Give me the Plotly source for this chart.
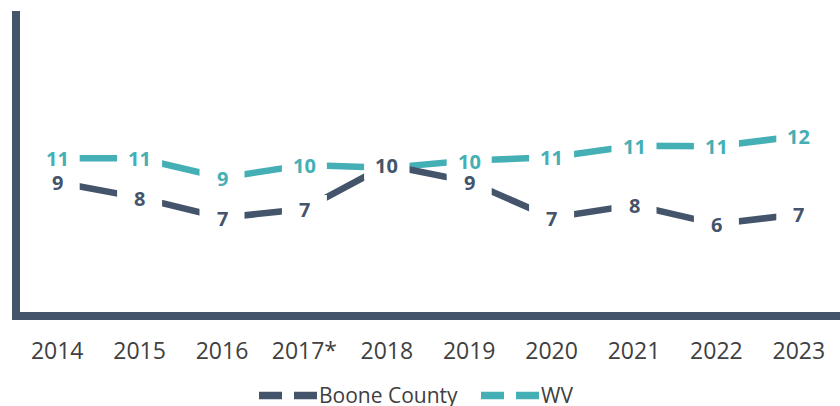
import plotly.graph_objects as go

# ---- data ----
years = ["2014", "2015", "2016", "2017*", "2018", "2019", "2020", "2021", "2022", "2023"]
boone = [9.06, 8.09, 6.82, 7.37, 10.15, 9.10, 6.82, 7.62, 6.42, 7.04]
wv = [10.57, 10.57, 9.35, 10.15, 9.97, 10.43, 10.64, 11.37, 11.33, 11.98]
series_names = ["Boone County", "WV"]
series_colors = ["#44546A", "#44AFB5"]
AXIS_COLOR = "#44546A"
TEXT_COLOR = "#404040"

W, H = 840, 406
ML, MR, MT, MB = 20, 0, 11, 94
PW, PH = W - ML - MR, H - MT - MB

fig = go.Figure()

xs = list(range(len(years)))
order = [(series_names[1], wv, series_colors[1], boone), (series_names[0], boone, series_colors[0], None)]
for name, vals, col, _ in order:
    fig.add_trace(go.Scatter(x=xs, y=vals, mode="lines", name=name,
                             line=dict(color=col, width=6.5), showlegend=False,
                             hoverinfo="skip"))

shapes = []
annotations = []
for name, vals, col, other in order:
    for i, v in enumerate(vals):
        # white mask behind each data label (gap in the line)
        shapes.append(dict(type="rect", xref="x", yref="y",
                           xsizemode="pixel", ysizemode="pixel",
                           xanchor=i, yanchor=v, x0=-22.5, x1=22.5, y0=-14, y1=14,
                           fillcolor="white", line=dict(width=0), layer="above"))
        hidden = other is not None and abs(v - other[i]) < 0.5
        annotations.append(dict(
            x=i, y=v, xref="x", yref="y", text="" if hidden else str(int(round(v))),
            showarrow=False, height=22, borderpad=0,
            xanchor="center", yanchor="middle",
            font=dict(family="Open Sans", size=20, color=col, weight=700)))

# ---- manual legend (pixel layout) ----
def px_x(px):
    return (px - ML) / PW

def px_y(py):
    return (MT + PH - py) / PH

legend_y = 395.5
legend_items = [(series_names[0], series_colors[0], 259), (series_names[1], series_colors[1], 481)]
for name, col, sx in legend_items:
    shapes.append(dict(type="line", xref="paper", yref="paper",
                       x0=px_x(sx), x1=px_x(sx + 58), y0=px_y(legend_y), y1=px_y(legend_y),
                       line=dict(color=col, width=7.5, dash="23px,12px")))
    annotations.append(dict(x=px_x(sx + 59), y=px_y(legend_y - 0.5), xref="paper", yref="paper",
                            text=name, showarrow=False, xanchor="left", yanchor="middle",
                            height=22, borderpad=0,
                            font=dict(family="Open Sans", size=21, color=TEXT_COLOR)))

fig.update_layout(
    width=W, height=H,
    margin=dict(l=ML, r=MR, t=MT, b=MB),
    paper_bgcolor="white", plot_bgcolor="white",
    showlegend=False,
    annotations=annotations,
    shapes=shapes,
    xaxis=dict(tickmode="array", tickvals=xs, ticktext=years,
               range=[-0.4515, len(years) - 0.5], showgrid=False, zeroline=False,
               showline=True, linecolor=AXIS_COLOR, linewidth=8,
               ticks="", ticklabelstandoff=11,
               tickfont=dict(family="Open Sans", size=23, color=TEXT_COLOR),
               fixedrange=True),
    yaxis=dict(range=[0.865, 19.88], showgrid=False, zeroline=False,
               showline=True, linecolor=AXIS_COLOR, linewidth=8,
               showticklabels=False, ticks="", fixedrange=True),
)

fig.write_html("out.html", config={"displayModeBar": False, "staticPlot": True},
               post_script="document.body.style.margin='0px';document.body.style.overflow='hidden';")
